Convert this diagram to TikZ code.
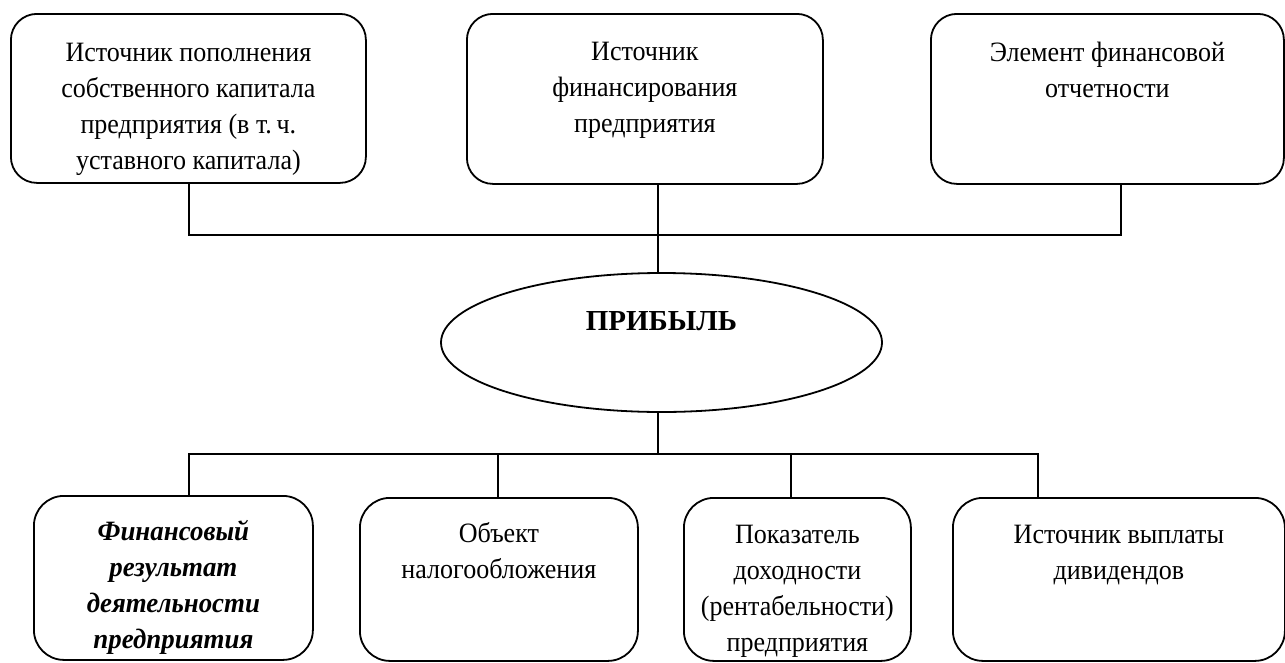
\documentclass[tikz,border=0pt]{standalone}
\usepackage{fontspec}
\setmainfont{Liberation Serif}[FakeStretch=0.93]
\newfontfamily\plainserif{Liberation Serif}
\newfontfamily\biserif{Liberation Serif}[FakeStretch=0.96]
\usetikzlibrary{shapes.geometric,calc}
% width, height, baseline offset of first line, text
\newcommand\boxtxt[4]{\parbox[c][#2][t]{#1}{\centering\rule{0pt}{#3}#4\par}}
\begin{document}
\begin{tikzpicture}[x=1pt,y=-1pt,
  rbox/.style={draw, line width=1.8pt, rounded corners=26pt, inner sep=0pt, anchor=north west},
  rboxb/.style={rbox, rounded corners=30pt},
  ln/.style={line width=1.4pt},
  every node/.style={font=\fontsize{28}{36}\selectfont}]
\useasboundingbox (0,0) rectangle (1285,662);

% top boxes
\node[rbox] (t1) at (10,13) {\boxtxt{355pt}{169pt}{48pt}{Источник пополнения\\собственного капитала\\предприятия (в т.\,ч.\\уставного капитала)}};
\node[rbox] (t2) at (466,13) {\boxtxt{356pt}{170pt}{47pt}{Источник\\финансирования\\предприятия}};
\node[rbox] (t3) at (930,13) {\boxtxt{353pt}{170pt}{48pt}{Элемент финансовой\\отчетности}};

% central ellipse
\node[draw, ellipse, line width=1.8pt, minimum width=441pt, minimum height=139pt,
      inner sep=0pt, text height=18pt, text depth=42pt] (p) at (661.5,342.5) {\plainserif\fontsize{29}{36}\selectfont\bfseries ПРИБЫЛЬ};

% bottom boxes
\node[rboxb] (b1) at (33,495) {\boxtxt{279pt}{164pt}{45pt}{\biserif\bfseries\itshape Финансовый\\результат\\деятельности\\предприятия}};
\node[rboxb] (b2) at (359,497) {\boxtxt{278pt}{163pt}{45pt}{Объект\\налогообложения}};
\node[rboxb] (b3) at (683,497) {\boxtxt{227pt}{163pt}{46pt}{Показатель\\доходности\\(рентабельности)\\предприятия}};
\node[rboxb] (b4) at (952,497) {\boxtxt{332pt}{163pt}{46pt}{Источник выплаты\\дивидендов}};

% junction coordinates
\coordinate (a1) at (189,235);
\coordinate (h1) at (658,235);
\coordinate (a3) at (1121,235);
\coordinate (c1) at (189,454);
\coordinate (h2) at (658,454);
\coordinate (c2) at (498,454);
\coordinate (c3) at (791,454);
\coordinate (c4) at (1038,454);

% upper connectors
\draw[ln] (a1 |- t1.south) -- (a1) -- (a3) -- (a3 |- t3.south);
\draw[ln] (h1 |- t2.south) -- (h1 |- p.north);

% lower connectors
\draw[ln] (h2 |- p.south) -- (h2);
\draw[ln] (c1 |- b1.north) -- (c1) -- (c4) -- (c4 |- b4.north);
\draw[ln] (c2) -- (c2 |- b2.north);
\draw[ln] (c3) -- (c3 |- b3.north);
\end{tikzpicture}
\end{document}
